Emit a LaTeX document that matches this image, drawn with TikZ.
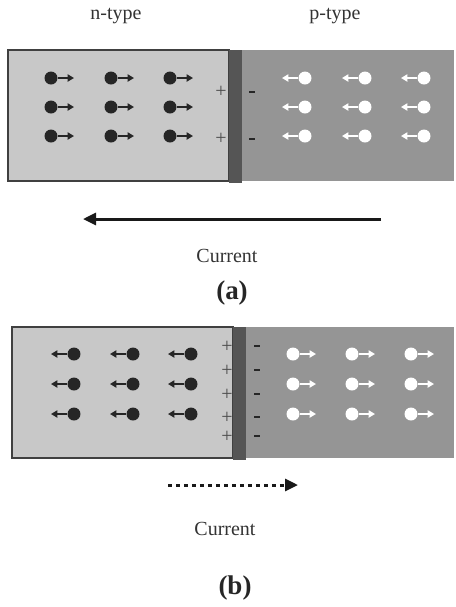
\documentclass[tikz,border=0pt]{standalone}
\usepackage{fontspec}
\setmainfont{Liberation Serif}
\usetikzlibrary{arrows.meta}

\definecolor{nfill}{HTML}{C8C8C8}
\definecolor{pfill}{HTML}{959595}
\definecolor{junction}{HTML}{555555}

\begin{document}
\begin{tikzpicture}[
    x=0.5pt, y=-0.5pt,
    electron/.style={circle, fill=black!85, inner sep=0pt, minimum size=6.5pt},
    hole/.style={circle, fill=white, inner sep=0pt, minimum size=6.5pt},
    drift/.style={line width=0.8pt, -{Triangle[length=3.2pt,width=3.6pt]}},
    charge/.style={font=\normalsize, inner sep=0pt},
    label/.style={font=\fontsize{10}{12}\selectfont, text=black!80},
    caption/.style={font=\fontsize{13.5}{15}\selectfont\bfseries, text=black!85},
    current/.style={line width=1.5pt, -{Triangle[length=6.5pt,width=6pt]}}
]
\useasboundingbox (0,0) rectangle (456,607);

% (a) junction
\fill[pfill] (242,50) rectangle (454,181);
\filldraw[fill=nfill, draw=black!75, line width=1pt] (8,50) rectangle (229,181);
\fill[junction] (229,50) rectangle (242,183);

\node[label] (ntype) at (116,16) {n-type};
\node[label] (ptype) at (335,16) {p-type};

\foreach \x [count=\i] in {51,111,170}
  \foreach \y [count=\j] in {78,107,136} {
    \node[electron] (ea\i\j) at (\x,\y) {};
    \coordinate (ea\i\j tip) at (\x+23,\y);
    \draw[drift, black!85] (ea\i\j) -- (ea\i\j tip);
  }
\foreach \x [count=\i] in {305,365,424}
  \foreach \y [count=\j] in {78,107,136} {
    \node[hole] (ha\i\j) at (\x,\y) {};
    \coordinate (ha\i\j tip) at (\x-23,\y);
    \draw[drift, white] (ha\i\j) -- (ha\i\j tip);
  }

\foreach \y [count=\k] in {92,139} {
  \node[charge, black!70] (pa\k) at (221,\y) {+};
  \node[charge, black!85] (ma\k) at (252,\y) {\rule{2.6pt}{1.1pt}};
}

\coordinate (ia start) at (381,219);
\coordinate (ia end) at (83,219);
\draw[current, black!90] (ia start) -- (ia end);
\node[label] (curra) at (227,256) {Current};
\node[caption] (capa) at (232,293) {(a)};

% (b) junction
\fill[pfill] (246,327) rectangle (454,458);
\filldraw[fill=nfill, draw=black!75, line width=1pt] (12,327) rectangle (233,458);
\fill[junction] (233,327) rectangle (246,460);

\foreach \x [count=\i] in {74,133,191}
  \foreach \y [count=\j] in {354,384,414} {
    \node[electron] (eb\i\j) at (\x,\y) {};
    \coordinate (eb\i\j tip) at (\x-23,\y);
    \draw[drift, black!85] (eb\i\j) -- (eb\i\j tip);
  }
\foreach \x [count=\i] in {293,352,411}
  \foreach \y [count=\j] in {354,384,414} {
    \node[hole] (hb\i\j) at (\x,\y) {};
    \coordinate (hb\i\j tip) at (\x+23,\y);
    \draw[drift, white] (hb\i\j) -- (hb\i\j tip);
  }

\foreach \y [count=\k] in {347,371,395,418,437} {
  \node[charge, black!70] (pb\k) at (227,\y) {+};
  \node[charge, black!85] (mb\k) at (257,\y-1) {\rule{2.6pt}{1.1pt}};
}

\coordinate (ib start) at (168,485);
\coordinate (ib end) at (298,485);
\draw[current, black!90, dash pattern=on 2pt off 2pt] (ib start) -- (ib end);
\node[label] (currb) at (225,529) {Current};
\node[caption] (capb) at (235,588) {(b)};

\end{tikzpicture}
\end{document}
